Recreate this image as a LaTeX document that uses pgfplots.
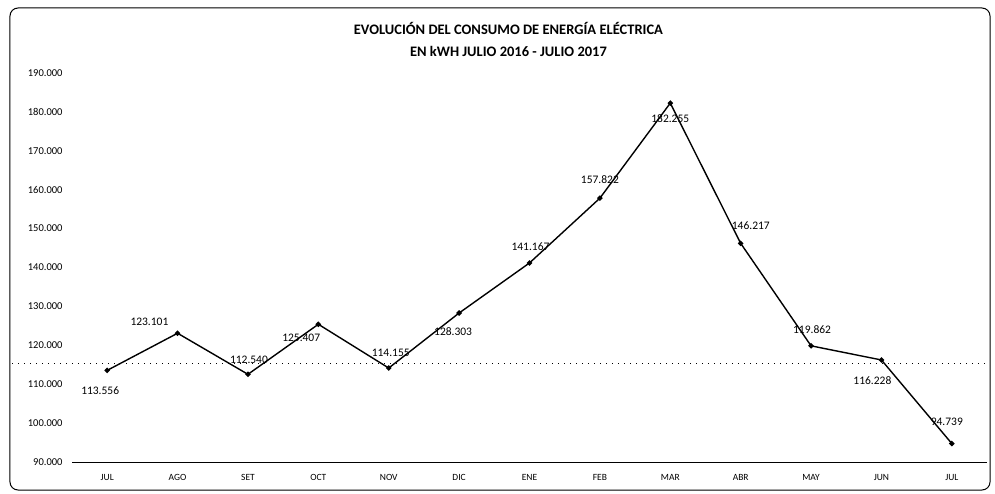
\documentclass[border=0pt]{standalone}
\usepackage{fontspec}
\setmainfont{Carlito}
\usepackage{pgfplots}
\pgfplotsset{compat=1.18}

\newcommand\lbl[6]{%
  \addplot[draw=none, no marks, forget plot, nodes near coords,
    point meta=explicit symbolic,
    nodes near coords style={font=\fontsize{11.5}{13}\selectfont, inner sep=1pt,
      anchor=#4, xshift=#5pt, yshift=#6pt, text=black}]
    coordinates {(#1,#2) [#3]};}

\begin{document}
\begin{tikzpicture}
\begin{axis}[
  at={(0,0)}, anchor=south west,
  scale only axis, width=915pt, height=389pt,
  clip=false,
  xmin=-0.5, xmax=12.5, ymin=90000, ymax=190000,
  xtick={0,...,12},
  xticklabels={JUL,AGO,SET,OCT,NOV,DIC,ENE,FEB,MAR,ABR,MAY,JUN,JUL},
  ytick={90000,100000,...,190000},
  scaled y ticks=false,
  yticklabel style={/pgf/number format/fixed, /pgf/number format/1000 sep={.}, /pgf/number format/assume math mode=true},
  yticklabel style={font=\fontsize{10.5}{12}\selectfont, xshift=-6pt},
  xticklabel style={font=\fontsize{9.5}{11}\selectfont, yshift=-9pt},
  axis x line*=bottom, axis y line*=left,
  x axis line style={black, line width=1pt, -},
  y axis line style={draw=none},
  major tick length=0pt,
  title={EVOLUCIÓN DEL CONSUMO DE ENERGÍA ELÉCTRICA\\EN kWH JULIO 2016 - JULIO 2017},
  title style={font=\bfseries\fontsize{14.5}{22}\selectfont, align=center,
    at={(axis description cs:0.477,1)}, anchor=south, yshift=7pt},
]
\addplot[black, line width=0.5pt, dash pattern=on 1pt off 5pt, forget plot]
  coordinates {(-1.35,115300) (12.5,115300)};
\addplot[black, line width=1.4pt, mark=*, mark size=1.9pt] coordinates {
  (0,113556) (1,123101) (2,112540) (3,125407) (4,114155) (5,128303)
  (6,141167) (7,157822) (8,182255) (9,146217) (10,119862) (11,116228) (12,94739)};
\lbl{0}{113556}{113.556}{north}{-7}{-15}
\lbl{1}{123101}{123.101}{south east}{-8}{6}
\lbl{2}{112540}{112.540}{south}{1}{10}
\lbl{3}{125407}{125.407}{north east}{3}{-9}
\lbl{4}{114155}{114.155}{south}{2}{10}
\lbl{5}{128303}{128.303}{north}{-6}{-13}
\lbl{6}{141167}{141.167}{south}{1}{11}
\lbl{7}{157822}{157.822}{south}{0}{13}
\lbl{8}{182255}{182.255}{north}{0}{-10}
\lbl{9}{146217}{146.217}{south west}{-10}{13}
\lbl{10}{119862}{119.862}{south}{1}{11}
\lbl{11}{116228}{116.228}{north}{-9}{-15}
\lbl{12}{94739}{94.739}{south}{-5}{17}
\end{axis}
\draw[black, line width=1pt, rounded corners=8pt] (-62pt,-28pt) rectangle (918pt,454pt);
\pgfresetboundingbox
\path[use as bounding box] (-72pt,-31pt) rectangle (923pt,462pt);
\end{tikzpicture}
\end{document}
